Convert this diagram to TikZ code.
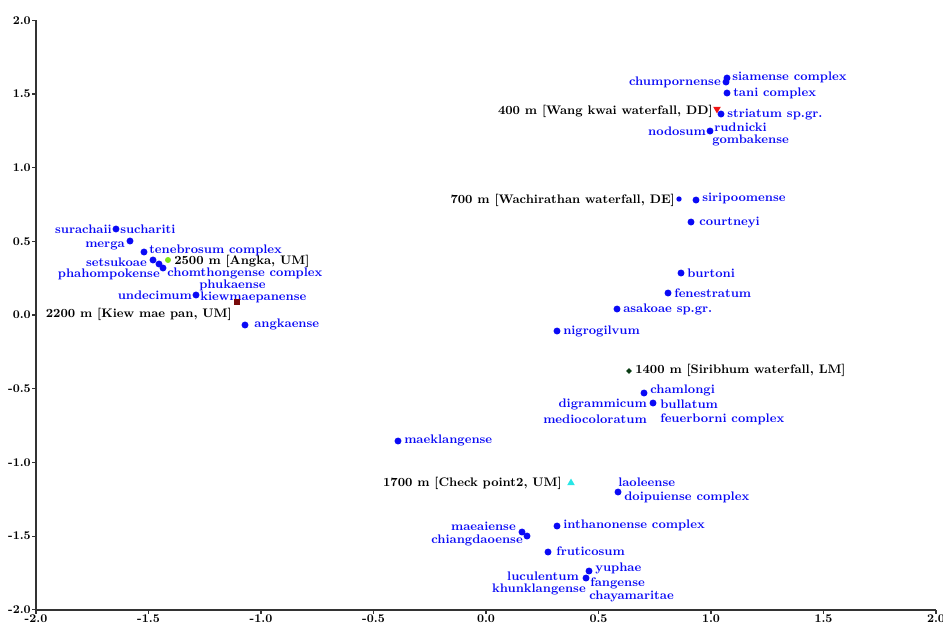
\documentclass[tikz,border=0pt]{standalone}
\usetikzlibrary{shapes.geometric}
\definecolor{lblue}{RGB}{10,10,245}
\definecolor{sgreen}{RGB}{130,230,20}
\definecolor{sred}{RGB}{120,10,10}
\definecolor{tred}{RGB}{240,20,20}
\definecolor{dgreen}{RGB}{10,60,20}
\definecolor{scyan}{RGB}{40,230,230}
\begin{document}
\begin{tikzpicture}[x={(0.75pt,0)},y={(0,-0.75pt)},
  dot/.style={circle,fill=lblue,inner sep=0pt,minimum size=5.2pt},
  sdot/.style={circle,fill=lblue,inner sep=0pt,minimum size=4pt},
  lab/.style={text=lblue,font=\fontsize{9.3}{10}\selectfont\bfseries,inner sep=0pt},
  site/.style={text=black,font=\fontsize{9.3}{10}\selectfont\bfseries,inner sep=0pt},
  tick/.style={font=\fontsize{8.9}{10}\selectfont\bfseries,inner sep=0pt},
  axis/.style={line width=0.9pt,draw=black!80}]
\useasboundingbox (0,0) rectangle (943,626);
% axes
\coordinate (o) at (36,610);
\coordinate (yt) at (36,20);
\coordinate (xr) at (936,610);
\draw[axis] (yt) -- (o) -- (xr);
\foreach \v/\t in {20.2/2.0,93.9/1.5,167.6/1.0,241.3/0.5,315/0.0,388.7/-0.5,462.4/-1.0,536.1/-1.5,609.8/-2.0}{
  \draw[axis] (32,\v) -- (36,\v);
  \node[tick,anchor=east] (ylab\t) at (31,\v) {\t};
}
\foreach \u/\t in {36/-2.0,148.5/-1.5,261/-1.0,373.5/-0.5,486/0.0,598.5/0.5,711/1.0,823.5/1.5,936/2.0}{
  \draw[axis] (\u,610) -- (\u,614);
  \node[tick,anchor=north] (xlab\t) at (\u,614) {\t};
}
% left cluster
\node[dot] (p1) at (116,229) {};
\node[lab,anchor=east] (l1) at (112,229) {surachaii};
\node[lab,anchor=west] (l2) at (120,229) {suchariti};
\node[dot] (p2) at (130,241) {};
\node[lab,anchor=east] (l3) at (125,246) {merga};
\node[dot] (p3) at (144,252) {};
\node[lab,anchor=west] (l4) at (149,250) {tenebrosum complex};
\node[dot] (p4) at (153,260) {};
\node[lab,anchor=east] (l5) at (147,262) {setsukoae};
\node[dot] (p5) at (159,264) {};
\node[dot] (p6) at (163,268) {};
\node[lab,anchor=east] (l6) at (160,274) {phahompokense};
\node[lab,anchor=west] (l7) at (167,273) {chomthongense complex};
\node[circle,fill=sgreen,inner sep=0pt,minimum size=4.5pt] (s1) at (168,260) {};
\node[site,anchor=west] (sl1) at (174,261) {2500 m [Angka, UM]};
\node[dot] (p7) at (196,295) {};
\node[lab,anchor=east] (l8) at (192,295) {undecimum};
\node[lab,anchor=west] (l9) at (200,297) {kiewmaepanense};
\node[lab,anchor=west] (l10) at (199,285) {phukaense};
\node[rectangle,fill=sred,inner sep=0pt,minimum size=4.8pt] (s2) at (237,302) {};
\node[site,anchor=east] (sl2) at (232,314) {2200 m [Kiew mae pan, UM]};
\node[dot] (p8) at (245,325) {};
\node[lab,anchor=west] (l11) at (254,324) {angkaense};
% top right cluster
\node[dot] (p9) at (727,78) {};
\node[dot] (p10) at (726,82) {};
\node[lab,anchor=east] (l12) at (721,82) {chumpornense};
\node[lab,anchor=west] (l13) at (732,77) {siamense complex};
\node[dot] (p11) at (727,93) {};
\node[lab,anchor=west] (l14) at (733,93) {tani complex};
\node[isosceles triangle,isosceles triangle apex angle=60,shape border rotate=-90,fill=tred,inner sep=0pt,minimum size=5pt] (s3) at (717,109) {};
\node[site,anchor=east] (sl3) at (713,111) {400 m [Wang kwai waterfall, DD]};
\node[dot] (p12) at (721,114) {};
\node[lab,anchor=west] (l15) at (727,114) {striatum sp.gr.};
\node[dot] (p13) at (710,131) {};
\node[lab,anchor=east] (l16) at (706,131) {nodosum};
\node[lab,anchor=west] (l17) at (714,127) {rudnicki};
\node[lab,anchor=west] (l18) at (712,140) {gombakense};
% middle right
\node[sdot] (s4) at (679,199) {};
\node[site,anchor=east] (sl4) at (675,200) {700 m [Wachirathan waterfall, DE]};
\node[dot] (p14) at (696,200) {};
\node[lab,anchor=west] (l19) at (702,198) {siripoomense};
\node[dot] (p15) at (691,222) {};
\node[lab,anchor=west] (l20) at (699,222) {courtneyi};
\node[dot] (p16) at (681,273) {};
\node[lab,anchor=west] (l21) at (687,273) {burtoni};
\node[dot] (p17) at (668,293) {};
\node[lab,anchor=west] (l22) at (674,293) {fenestratum};
\node[dot] (p18) at (617,309) {};
\node[lab,anchor=west] (l23) at (623,309) {asakoae sp.gr.};
\node[dot] (p19) at (557,331) {};
\node[lab,anchor=west] (l24) at (563,331) {nigrogilvum};
% lower middle
\node[diamond,fill=dgreen,inner sep=0pt,minimum size=4.5pt] (s5) at (629,371) {};
\node[site,anchor=west] (sl5) at (635,370) {1400 m [Siribhum waterfall, LM]};
\node[dot] (p20) at (644,393) {};
\node[lab,anchor=west] (l25) at (650,390) {chamlongi};
\node[dot] (p21) at (653,403) {};
\node[lab,anchor=east] (l26) at (647,404) {digrammicum};
\node[lab,anchor=west] (l27) at (660,404) {bullatum};
\node[lab,anchor=east] (l28) at (647,419) {mediocoloratum};
\node[lab,anchor=west] (l29) at (660,419) {feuerborni complex};
\node[dot] (p22) at (398,441) {};
\node[lab,anchor=west] (l30) at (404,440) {maeklangense};
% bottom cluster
\node[isosceles triangle,isosceles triangle apex angle=60,shape border rotate=90,fill=scyan,inner sep=0pt,minimum size=5pt] (s6) at (571,483) {};
\node[site,anchor=east] (sl6) at (562,483) {1700 m [Check point2, UM]};
\node[dot] (p23) at (618,492) {};
\node[lab,anchor=west] (l31) at (618,482) {laoleense};
\node[lab,anchor=west] (l32) at (624,497) {doipuiense complex};
\node[dot] (p24) at (557,526) {};
\node[lab,anchor=west] (l33) at (563,525) {inthanonense complex};
\node[dot] (p25) at (522,532) {};
\node[dot] (p26) at (527,536) {};
\node[lab,anchor=east] (l34) at (516,526) {maeaiense};
\node[lab,anchor=east] (l35) at (523,540) {chiangdaoense};
\node[dot] (p27) at (548,552) {};
\node[lab,anchor=west] (l36) at (556,551) {fruticosum};
\node[dot] (p28) at (589,571) {};
\node[lab,anchor=west] (l37) at (595,568) {yuphae};
\node[dot] (p29) at (586,578) {};
\node[lab,anchor=east] (l38) at (579,576) {luculentum};
\node[lab,anchor=west] (l39) at (590,583) {fangense};
\node[lab,anchor=east] (l40) at (586,589) {khunklangense};
\node[lab,anchor=west] (l41) at (589,596) {chayamaritae};
\end{tikzpicture}
\end{document}
